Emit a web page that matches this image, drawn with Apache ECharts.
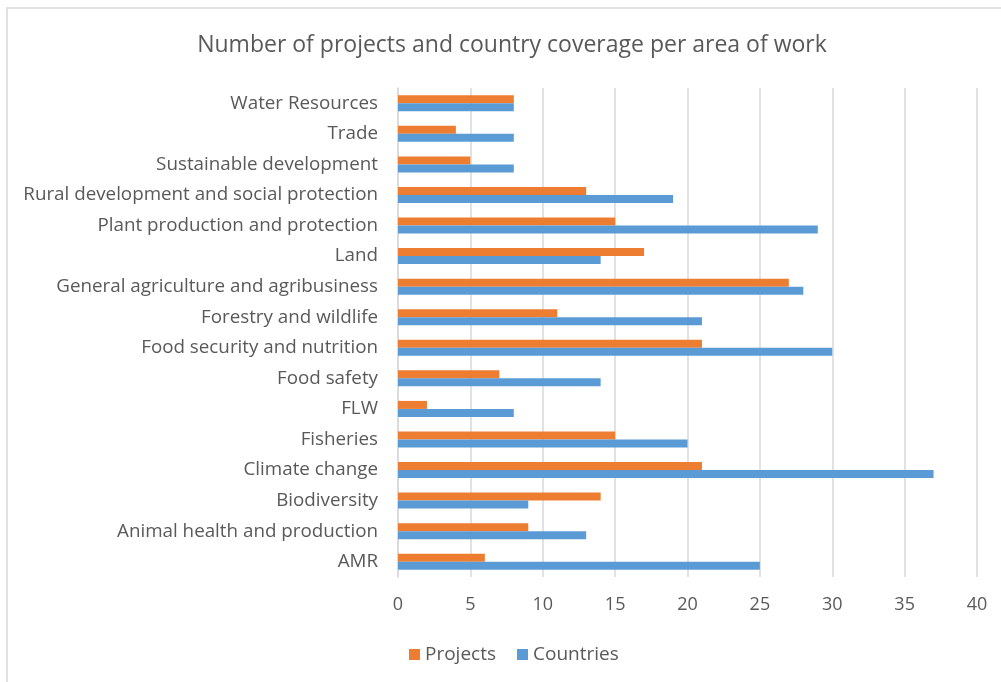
<!DOCTYPE html>
<html><head><meta charset="utf-8">
<script src="https://cdn.jsdelivr.net/npm/echarts@6/dist/echarts.min.js"></script>
<style>html,body{margin:0;padding:0;background:#fff}#c{width:1001px;height:682px}</style>
</head><body><div id="c"></div>
<script>
const categories = ["AMR","Animal health and production","Biodiversity","Climate change","Fisheries","FLW","Food safety","Food security and nutrition","Forestry and wildlife","General agriculture and agribusiness","Land","Plant production and protection","Rural development and social protection","Sustainable development","Trade","Water Resources"];
const projects = [6,9,14,21,15,2,7,21,11,27,17,15,13,5,4,8];
const countries = [25,13,9,37,20,8,14,30,21,28,14,29,19,8,8,8];
const xTicks = [0,5,10,15,20,25,30,35,40];

const font = "'Open Sans', 'Noto Sans', sans-serif";
const chart = echarts.init(document.getElementById('c'), null, {renderer:'canvas'});
chart.setOption({
  animation:false,
  backgroundColor:'#fff',
  textStyle:{fontFamily:font},
  graphic:[{type:'rect',shape:{x:7,y:8,width:1010,height:690},style:{fill:'none',stroke:'#d9d9d9',lineWidth:1.5},silent:true}],
  title:{text:'Number of projects and country coverage per area of work',left:507,top:29,textAlign:'center',
    textStyle:{fontFamily:font,fontSize:23,fontWeight:'normal',color:'#595959'}},
  legend:{data:['Projects','Countries'],top:640,left:404,icon:'rect',itemWidth:11,itemHeight:11,itemGap:21,
    textStyle:{fontFamily:font,fontSize:19,color:'#595959'}},
  grid:{left:398,right:24,top:88,bottom:105,containLabel:false},
  xAxis:{type:'value',min:xTicks[0],max:xTicks[xTicks.length-1],interval:5,
    axisLine:{show:false},axisTick:{show:false},
    splitLine:{lineStyle:{color:'#d9d9d9',width:1.5}},
    axisLabel:{fontFamily:font,fontSize:18,color:'#595959',margin:19}},
  yAxis:{type:'category',data:categories,
    axisLine:{lineStyle:{color:'#d9d9d9',width:1.5}},axisTick:{show:false},
    axisLabel:{fontFamily:font,fontSize:18.8,color:'#595959',margin:20}},
  series:[
    {name:'Projects',type:'bar',data:projects,barWidth:8,barGap:'0%',itemStyle:{color:'#ED7D31'}},
    {name:'Countries',type:'bar',data:countries,barWidth:8,barGap:'0%',itemStyle:{color:'#5B9BD5'}}
  ]
});
</script></body></html>
